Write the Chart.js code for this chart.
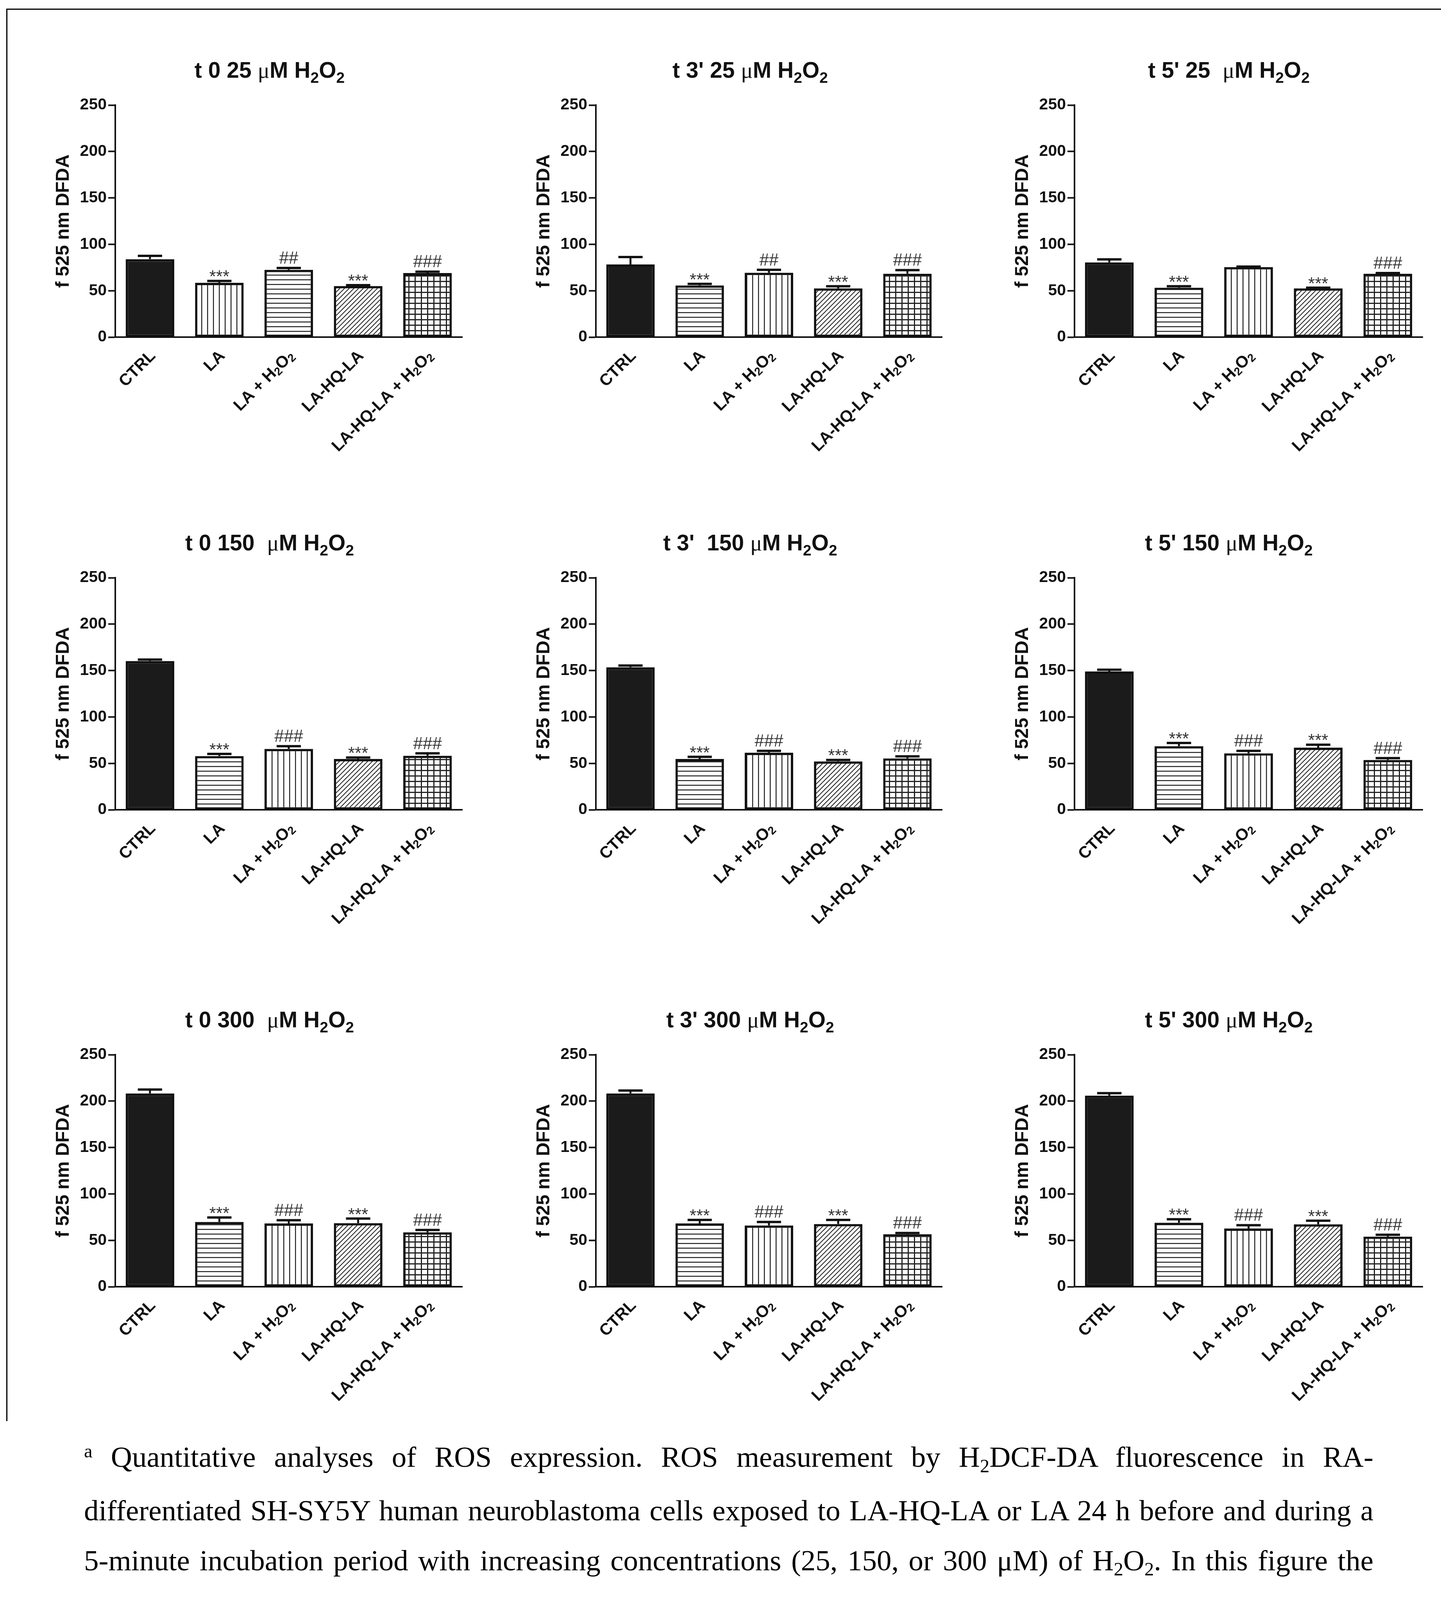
<!DOCTYPE html>
<html>
<head>
<meta charset="utf-8">
<script src="https://cdn.jsdelivr.net/npm/chart.js@4.4.0/dist/chart.umd.min.js"></script>
<style>
  html, body { margin: 0; padding: 0; background: #fff; }
  body { width: 3688px; height: 4680px; position: relative; overflow: hidden; }
  .frame-top { position: absolute; left: 16px; top: 22px; width: 3672px; height: 3px; background: #000; }
  .frame-left { position: absolute; left: 16px; top: 22px; width: 3px; height: 3616px; background: #000; }
  .panel { position: absolute; }
  #caption { position: absolute; left: 215px; top: 3666px; width: 3300px;
    font-family: "Liberation Serif", "Times New Roman", serif; font-size: 75px; line-height: 127.4px; color: #000; }
  #caption .ln { white-space: nowrap; }
  sub { font-size: 0.65em; vertical-align: baseline; position: relative; top: 0.28em; }
  sup { font-size: 0.65em; vertical-align: baseline; position: relative; top: -0.5em; }
</style>
</head>
<body>
<div class="frame-top"></div>
<div class="frame-left"></div>
<div id="panels"></div>
<div id="caption">
  <div class="ln"><span><sup>a</sup> Quantitative analyses of ROS expression. ROS measurement by H<sub>2</sub>DCF-DA fluorescence in RA-</span></div>
  <div class="ln"><span>differentiated SH-SY5Y human neuroblastoma cells exposed to LA-HQ-LA or LA 24 h before and during a</span></div>
  <div class="ln"><span>5-minute incubation period with increasing concentrations (25, 150, or 300 μM) of H<sub>2</sub>O<sub>2</sub>. In this figure the</span></div>
  <div class="ln"><span>fluorescence at three points (t<sub>0</sub>, t<sub>3</sub> and t<sub>5</sub>) during the time-course are reported. CTRL: control with H<sub>2</sub>O<sub>2</sub>. The</span></div>
  <div class="ln"><span>means ± SEM derived from two different experiments (each with n=10; ### or *** p &lt; 0.0001, ## or **</span></div>
  <div class="ln"><span>0.0001 &lt; p &lt; 0.001, # or * 0.001 &lt; p &lt; 0.05, n.s. p &gt; 0.05). * refers to SH-SY5Y human neuroblastoma cells</span></div>
  <div class="ln"><span>treated only with the neuroprotective compound. # refers to&nbsp; SH-SY5Y human neuroblastoma cells treated</span></div>
  <div class="ln last"><span>with a combination of the neuroprotective compound and the toxin.</span></div>
</div>
<script>
// groups on the x axis ("_2" = subscript)
const groups = ["CTRL", "LA", "LA + H_2O_2", "LA-HQ-LA", "LA-HQ-LA + H_2O_2"];
const yMax = 250;
const yStep = 50;
const yTitle = "f 525 nm DFDA";

// panel titles, row by row (25, 150, 300 µM), columns t0, t3', t5'
const titles = [
  "t 0 25 μM H_2O_2", "t 3' 25 μM H_2O_2", "t 5' 25  μM H_2O_2",
  "t 0 150  μM H_2O_2", "t 3'  150 μM H_2O_2", "t 5' 150 μM H_2O_2",
  "t 0 300  μM H_2O_2", "t 3' 300 μM H_2O_2", "t 5' 300 μM H_2O_2"
];

// means and SEM, each row is t0, t3', t5'
const mean25 = [[84, 58.5, 72.5, 55, 69], [78.3, 55.7, 69.3, 52.5, 68.3], [80.5, 53.2, 75.4, 52.5, 68.3]];
const sem25 = [[3.5, 2, 2, 1, 1.5], [8, 1.6, 3.2, 2.3, 3.9], [3.3, 1.6, 0.6, 0.7, 0.7]];
const mean150 = [[160.2, 57.9, 65.6, 54.7, 58.2], [153.5, 54.7, 61.5, 52.1, 55.3], [149, 68.5, 60.8, 66.9, 53.7]];
const sem150 = [[1.6, 2.3, 2.9, 1.6, 2.6], [1.9, 2.3, 1.9, 1.6, 2.3], [1.9, 3.5, 2.6, 3.2, 2]];
const mean300 = [[208.2, 69.8, 68.2, 68.5, 58.6], [208.2, 68.2, 66, 67.6, 56.6], [205.9, 68.9, 62.7, 67.2, 54]];
const sem300 = [[4.2, 4.8, 3.5, 4.9, 2.5], [3.2, 3.8, 3.8, 4.4, 1.3], [2.6, 3.8, 3.6, 3.9, 2]];

// significance marks above the bars
const marks25 = [["", "***", "##", "***", "###"], ["", "***", "##", "***", "###"], ["", "***", "", "***", "###"]];
const marks150 = [["", "***", "###", "***", "###"], ["", "***", "###", "***", "###"], ["", "***", "###", "***", "###"]];
const marks300 = [["", "***", "###", "***", "###"], ["", "***", "###", "***", "###"], ["", "***", "###", "***", "###"]];

const rowMeans = [mean25, mean150, mean300];
const rowSems = [sem25, sem150, sem300];
const rowMarks = [marks25, marks150, marks300];

// ---- layout / style ----
const colAxisX = [295, 1525, 2750];
const colPlotW = [888, 886, 891];
const rowZeroY = [863, 2073, 3294];
const PLOT_H = 594;
const PAD_L = 290, PAD_T = 250, PAD_R = 30, X_H = 400;
const INK = "#111";

const fillFirst = ["solid", "vert", "horiz", "diag", "grid"];
const fillOther = ["solid", "horiz", "vert", "diag", "grid"];

function makeFill(kind) {
  if (kind === "solid") return "#1b1b1b";
  const c = document.createElement("canvas");
  const g = c.getContext("2d");
  const size = { vert: [15, 15], horiz: [12, 12], diag: [12, 12], grid: [16, 14] }[kind];
  c.width = size[0];
  c.height = size[1];
  g.fillStyle = "#fff";
  g.fillRect(0, 0, c.width, c.height);
  g.fillStyle = "#222";
  g.strokeStyle = "#222";
  if (kind === "vert") g.fillRect(0, 0, 2.5, c.height);
  if (kind === "horiz") g.fillRect(0, 0, c.width, 2.5);
  if (kind === "grid") {
    g.fillRect(0, 0, 3, c.height);
    g.fillRect(0, 0, c.width, 3);
  }
  if (kind === "diag") {
    g.lineWidth = 2;
    [[0, 12, 12, 0], [-6, 6, 6, -6], [6, 18, 18, 6]].forEach(l => {
      g.beginPath(); g.moveTo(l[0], l[1]); g.lineTo(l[2], l[3]); g.stroke();
    });
  }
  return g.createPattern(c, "repeat");
}

// split "H_2O_2" style text into runs
function runs(str) {
  const out = [];
  const re = /(_\d|μ)/g;
  let last = 0, m;
  while ((m = re.exec(str))) {
    if (m.index > last) out.push({ t: str.slice(last, m.index) });
    out.push(m[0] === "μ" ? { t: "μ", mu: true } : { t: m[0][1], sub: true });
    last = re.lastIndex;
  }
  if (last < str.length) out.push({ t: str.slice(last) });
  return out;
}

function drawRich(ctx, str, x, y, size, align) {
  const parts = runs(str);
  const fontOf = p => p.sub ? "bold " + Math.round(size * 0.68) + 'px "Liberation Sans"'
    : p.mu ? size + 'px "Liberation Serif"' : "bold " + size + 'px "Liberation Sans"';
  let w = 0;
  parts.forEach(p => { ctx.font = fontOf(p); p.w = ctx.measureText(p.t).width; w += p.w; });
  let cx = align === "right" ? x - w : align === "center" ? x - w / 2 : x;
  ctx.textAlign = "left";
  parts.forEach(p => {
    ctx.font = fontOf(p);
    ctx.fillText(p.t, cx, p.sub ? y + size * 0.22 : y);
    cx += p.w;
  });
}

// titles, axis title, rotated labels, error bars and marks
const decor = {
  id: "decor",
  afterDatasetsDraw(chart, args, opts) {
    const { ctx, chartArea, scales: { x, y } } = chart;
    const means = chart.data.datasets[0].data;
    const meta = chart.getDatasetMeta(0);
    ctx.save();
    ctx.fillStyle = INK;
    ctx.strokeStyle = INK;

    meta.data.forEach((bar, i) => {
      const top = y.getPixelForValue(means[i] + opts.sem[i]);
      const half = bar.width / 4;
      ctx.lineWidth = 5;
      ctx.beginPath(); ctx.moveTo(bar.x, bar.y); ctx.lineTo(bar.x, top); ctx.stroke();
      ctx.lineWidth = 6;
      ctx.beginPath(); ctx.moveTo(bar.x - half, top); ctx.lineTo(bar.x + half, top); ctx.stroke();

      const mark = opts.marks[i];
      if (mark) {
        ctx.font = '44px "Liberation Sans"';
        ctx.fillStyle = "#333";
        ctx.textAlign = "center";
        ctx.textBaseline = "alphabetic";
        const mt = ctx.measureText(mark);
        ctx.fillText(mark, bar.x, top - 3 - 8 - mt.actualBoundingBoxDescent);
        ctx.fillStyle = INK;
      }
    });

    // rotated category labels
    ctx.textBaseline = "middle";
    groups.forEach((g, i) => {
      const px = x.getPixelForValue(i);
      ctx.save();
      ctx.translate(px + 8, chartArea.bottom + 42);
      ctx.rotate(-Math.PI / 4);
      drawRich(ctx, g, 0, 0, 42, "right");
      ctx.restore();
    });

    // y axis title
    ctx.save();
    ctx.translate(chartArea.left - 132, (chartArea.top + chartArea.bottom) / 2);
    ctx.rotate(-Math.PI / 2);
    ctx.font = 'bold 48px "Liberation Sans"';
    ctx.textAlign = "center";
    ctx.fillText(yTitle, 0, 0);
    ctx.restore();

    // panel title
    ctx.textBaseline = "alphabetic";
    drawRich(ctx, opts.title, chartArea.left + 395, chartArea.top - 70, 57, "center");
    ctx.restore();
  }
};

Chart.defaults.font.family = '"Liberation Sans", Arial, sans-serif';
Chart.defaults.color = INK;

const holder = document.getElementById("panels");
for (let r = 0; r < 3; r++) {
  for (let c = 0; c < 3; c++) {
    const w = PAD_L + colPlotW[c] + PAD_R;
    const h = PAD_T + PLOT_H + X_H;
    const canvas = document.createElement("canvas");
    canvas.className = "panel";
    canvas.width = w;
    canvas.height = h;
    canvas.style.width = w + "px";
    canvas.style.height = h + "px";
    canvas.style.left = (colAxisX[c] - PAD_L) + "px";
    canvas.style.top = (rowZeroY[r] - PLOT_H - PAD_T) + "px";
    holder.appendChild(canvas);

    const fills = (r === 0 && c === 0 ? fillFirst : fillOther).map(makeFill);

    new Chart(canvas, {
      type: "bar",
      data: {
        labels: groups,
        datasets: [{
          data: rowMeans[r][c],
          backgroundColor: fills,
          borderColor: INK,
          borderWidth: 6,
          borderSkipped: false,
          barPercentage: 0.7,
          categoryPercentage: 1
        }]
      },
      options: {
        responsive: false,
        animation: false,
        devicePixelRatio: 1,
        layout: { padding: { top: PAD_T, right: PAD_R, left: 0, bottom: 0 } },
        plugins: {
          legend: { display: false },
          tooltip: { enabled: false },
          decor: { title: titles[r * 3 + c], sem: rowSems[r][c], marks: rowMarks[r][c] }
        },
        scales: {
          x: {
            grid: { display: false },
            border: { display: true, color: INK, width: 4 },
            ticks: { display: false },
            afterFit: s => { s.height = X_H; }
          },
          y: {
            min: 0,
            max: yMax,
            ticks: { stepSize: yStep, color: INK, padding: 4, font: { size: 41, weight: "bold" } },
            grid: { display: true, drawOnChartArea: false, drawTicks: true, tickLength: 18, tickWidth: 4, tickColor: INK, color: INK },
            border: { display: true, color: INK, width: 4 },
            afterFit: s => { s.width = PAD_L; }
          }
        }
      },
      plugins: [decor]
    });
  }
}

// justify caption lines to the full column width
function justify() {
  const W = 3300;
  document.querySelectorAll("#caption .ln").forEach(div => {
    div.style.wordSpacing = "0px";
    if (div.classList.contains("last")) return;
    const span = div.firstElementChild;
    const nat = span.getBoundingClientRect().width;
    const gaps = (span.textContent.match(/[ \u00a0]+/g) || []).length;
    if (gaps) div.style.wordSpacing = ((W - nat) / gaps) + "px";
  });
}
justify();
if (document.fonts) document.fonts.ready.then(justify);
</script>
</body>
</html>
